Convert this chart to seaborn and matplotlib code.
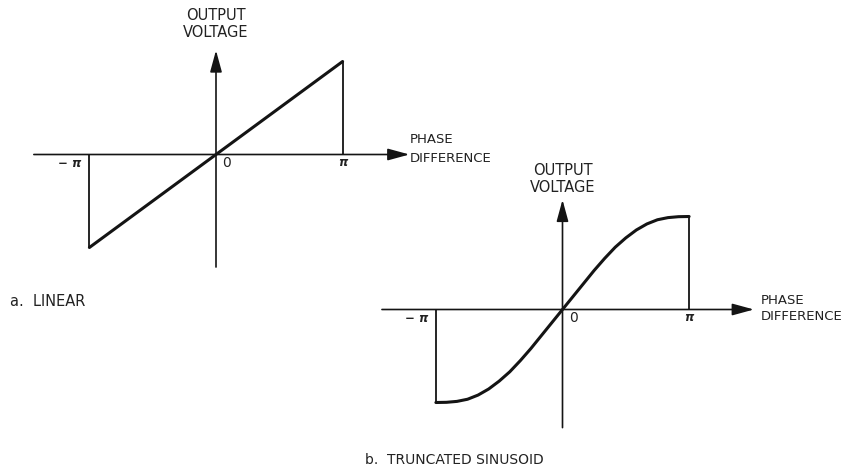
import numpy as np
import pandas as pd
import matplotlib
matplotlib.use("Agg")
import matplotlib.pyplot as plt
import seaborn as sns

# ---- data -------------------------------------------------------------
PI = np.pi
tick_phases = [-PI, 0.0, PI]
tick_labels = ["\u2212 \u03c0", "0", "\u03c0"]

# (a) linear characteristic
linear_phase = [-PI, PI]
linear_voltage = [-1.0, 1.0]

# (b) truncated sinusoid, sampled every pi/12
sine_phase = [k * PI / 12 for k in range(-12, 13)]
sine_voltage = [-1.0, -0.998, -0.988, -0.965, -0.92, -0.855, -0.77, -0.67,
                -0.55, -0.42, -0.28, -0.14, 0.0,
                0.14, 0.28, 0.42, 0.55, 0.67, 0.77, 0.855, 0.92, 0.965,
                0.988, 0.998, 1.0]

axis_title_y = ["OUTPUT", "VOLTAGE"]
axis_title_x = ["PHASE", "DIFFERENCE"]
captions = ["a.  LINEAR", "b.  TRUNCATED SINUSOID"]

# ---- figure -----------------------------------------------------------
W, H, DPI = 846, 466, 100
sns.set_theme(style="white")
plt.rcParams["font.family"] = ["DejaVu Sans"]

INK = "#141414"
TXT = "#222222"
SX, SY = 40.3, 93.0          # pixels per radian / per unit voltage

fig = plt.figure(figsize=(W / DPI, H / DPI), dpi=DPI)
fig.patch.set_facecolor("white")


def panel(origin, h_extent, v_extent, xlab_pos, phase, voltage):
    ox, oy = origin
    ax = fig.add_axes([0, 0, 1, 1])
    ax.patch.set_alpha(0)
    ax.set_xlim(-ox / SX, (W - ox) / SX)
    ax.set_ylim((oy - H) / SY, oy / SY)
    ax.set_axis_off()

    arrow = dict(arrowstyle="-|>,head_length=1.1,head_width=0.3",
                 lw=1.2, color=INK, shrinkA=0, shrinkB=0)
    # horizontal (phase) axis
    ax.annotate("", xy=(h_extent[1], 0), xytext=(h_extent[0], 0),
                arrowprops=arrow)
    # vertical (voltage) axis
    ax.annotate("", xy=(0, v_extent[1]), xytext=(0, v_extent[0]),
                arrowprops=arrow)

    df = pd.DataFrame({"phase": phase, "voltage": voltage})
    sns.lineplot(data=df, x="phase", y="voltage", ax=ax, color=INK,
                 lw=2.2, sort=False, estimator=None,
                 solid_joinstyle="round", solid_capstyle="round")
    # truncation edges at +/- pi
    ax.vlines([phase[0], phase[-1]], 0, [voltage[0], voltage[-1]],
              color=INK, lw=1.3)

    # tick labels on the phase axis
    ax.text(tick_phases[0] - 0.48, -0.10, tick_labels[0], ha="center",
            va="center", fontsize=8.5, fontweight="bold", style="italic",
            color=TXT)
    ax.text(0.27, -0.09, tick_labels[1], ha="center", va="center",
            fontsize=10, color=TXT)
    ax.text(tick_phases[2], -0.09, tick_labels[2], ha="center", va="center",
            fontsize=8.5, fontweight="bold", style="italic", color=TXT)

    # axis titles
    ax.text(0, 1.49, axis_title_y[0], ha="center", va="center",
            fontsize=10.5, color=TXT)
    ax.text(0, 1.31, axis_title_y[1], ha="center", va="center",
            fontsize=10.5, color=TXT)
    ax.text(xlab_pos[0], xlab_pos[1], axis_title_x[0], ha="left",
            va="center", fontsize=9.5, color=TXT)
    ax.text(xlab_pos[0], xlab_pos[2], axis_title_x[1], ha="left",
            va="center", fontsize=9.5, color=TXT)
    return ax


panel((216, 154.5), (-4.52, 4.80), (-1.21, 1.12), (4.82, 0.156, -0.04),
      linear_phase, linear_voltage)
panel((562.5, 309.5), (-4.48, 4.75), (-1.27, 1.18), (4.91, 0.10, -0.08),
      sine_phase, sine_voltage)

fig.text(10 / W, 1 - 302 / H, captions[0], ha="left", va="center",
         fontsize=10.5, color=TXT)
fig.text(365 / W, 1 - 460 / H, captions[1], ha="left", va="center",
         fontsize=10, color=TXT)

fig.savefig("out.png", dpi=DPI, facecolor="white")
